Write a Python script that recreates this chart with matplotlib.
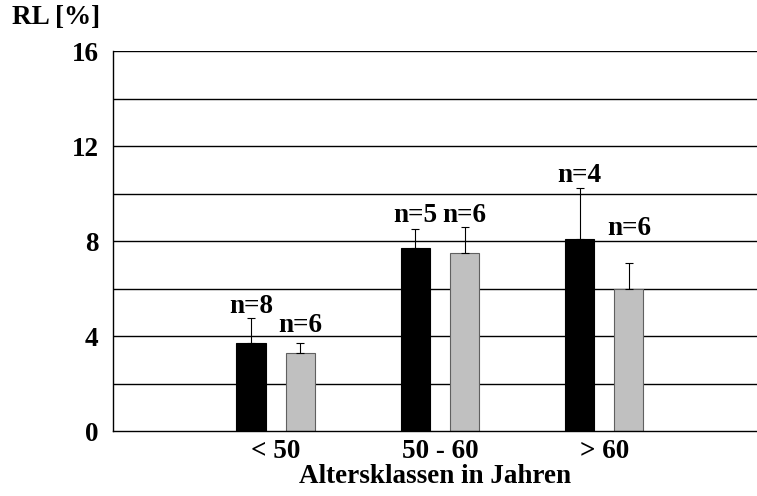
import matplotlib
matplotlib.use("Agg")
import matplotlib.pyplot as plt
import numpy as np

plt.rcParams['font.family'] = ['Liberation Serif', 'DejaVu Serif']
plt.rcParams['font.weight'] = 'bold'

categories = ["< 50", "50 - 60", "> 60"]
group_a = [3.72, 7.70, 8.10]
group_a_err = [1.02, 0.79, 2.12]
group_b = [3.27, 7.49, 5.99]
group_b_err = [0.44, 1.11, 1.10]
n_a = ["n=8", "n=5", "n=4"]
n_b = ["n=6", "n=6", "n=6"]
label_y_a = [4.97, 8.80, 10.48]
label_y_b = [4.17, 8.80, 8.25]

FS = 19.5

fig = plt.figure(figsize=(7.57, 4.96), dpi=100)
ax = fig.add_axes([0.1493, 0.131, 0.8507, 0.766])

x = np.arange(len(categories))
w = 0.177
off = 0.15

ax.set_axisbelow(True)
for yv in range(2, 17, 2):
    ax.axhline(yv, color='black', lw=1.0, zorder=0)

ax.bar(x - off, group_a, w, color='black', edgecolor='black', lw=0.8, zorder=2)
ax.bar(x + off, group_b, w, color='#C0C0C0', edgecolor='#606060', lw=0.8, zorder=2)
ax.errorbar(x - off, group_a, yerr=[np.zeros(3), group_a_err], fmt='none',
            ecolor='black', elinewidth=0.8, capsize=3, capthick=0.8, zorder=3)
ax.errorbar(x + off, group_b, yerr=[np.zeros(3), group_b_err], fmt='none',
            ecolor='black', elinewidth=0.8, capsize=3, capthick=0.8, zorder=3)

for xi, t, yl in zip(x - off, n_a, label_y_a):
    ax.text(xi, yl, t, ha='center', va='baseline', fontsize=FS, fontweight='bold')
for xi, t, yl in zip(x + off, n_b, label_y_b):
    ax.text(xi, yl, t, ha='center', va='baseline', fontsize=FS, fontweight='bold')

ax.set_xlim(-0.99, 2.93)
ax.set_ylim(0, 16)
ax.set_yticks([0, 4, 8, 12, 16])
ax.set_xticks(x)
ax.set_xticklabels(categories)
ax.tick_params(axis='both', length=0, labelsize=FS)
ax.tick_params(axis='y', pad=10.5)
ax.tick_params(axis='x', pad=6)
for lab in ax.get_xticklabels() + ax.get_yticklabels():
    lab.set_fontweight('bold')

ax.spines['top'].set_visible(False)
ax.spines['right'].set_visible(False)
ax.spines['left'].set_color('black')
ax.spines['bottom'].set_color('black')
ax.spines['left'].set_linewidth(1.0)
ax.spines['bottom'].set_linewidth(1.0)

ax.set_xlabel("Altersklassen in Jahren", fontsize=FS, fontweight='bold', labelpad=0)
fig.text(12 / 757, 1 - 18 / 496, "RL [%]", fontsize=FS, fontweight='bold',
         ha='left', va='center')

fig.savefig("out.png", dpi=100)
